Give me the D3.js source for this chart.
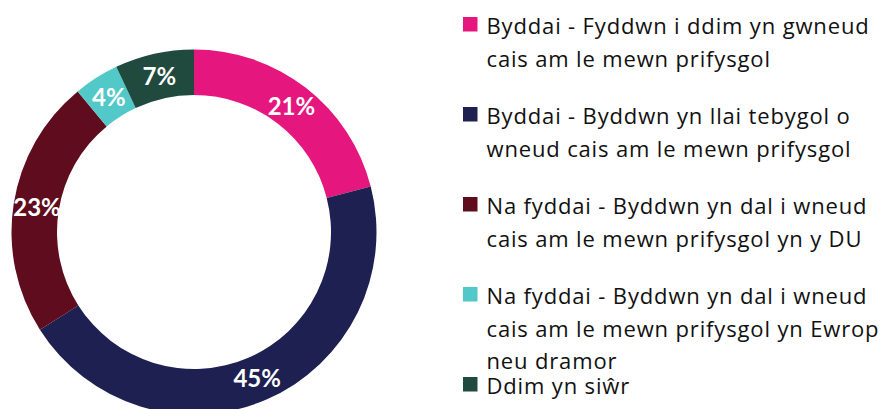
<!DOCTYPE html>
<html>
<head>
<meta charset="utf-8">
<script src="https://cdn.jsdelivr.net/npm/d3@7"></script>
<style>
  html, body { margin: 0; padding: 0; background: #fff; }
  svg { display: block; }
</style>
</head>
<body>
<svg id="chart" width="891" height="409"></svg>
<script>
// data
const categories = [
  "Byddai - Fyddwn i ddim yn gwneud|cais am le mewn prifysgol",
  "Byddai - Byddwn yn llai tebygol o|wneud cais am le mewn prifysgol",
  "Na fyddai - Byddwn yn dal i wneud|cais am le mewn prifysgol yn y DU",
  "Na fyddai - Byddwn yn dal i wneud|cais am le mewn prifysgol yn Ewrop|neu dramor",
  "Ddim yn siŵr"
];
const values = [21, 45, 23, 4, 7];
const colors = ["#E5177F", "#1D2050", "#5E0C1E", "#52C8C8", "#1F4A3D"];

const svg = d3.select("#chart");
const cx = 194, cy = 232;
const outerR = 182.5, innerR = 137;

const g = svg.append("g").attr("transform", `translate(${cx},${cy})`);

const pie = d3.pie().sort(null).value(d => d);
const arcs = pie(values);

const arc = d3.arc().innerRadius(innerR).outerRadius(outerR);
const labelArc = d3.arc().innerRadius(159).outerRadius(159);

g.selectAll("path.slice")
  .data(arcs)
  .enter().append("path")
  .attr("class", "slice")
  .attr("d", arc)
  .attr("fill", (d, i) => colors[i]);

g.selectAll("text.pct")
  .data(arcs)
  .enter().append("text")
  .attr("class", "pct")
  .attr("transform", d => `translate(${labelArc.centroid(d)})`)
  .attr("text-anchor", "middle")
  .attr("dy", "0.36em")
  .attr("fill", "#fff")
  .attr("font-family", "Lato, sans-serif")
  .attr("font-weight", "bold")
  .attr("font-size", 24)
  .text(d => d.data + "%");

// legend
const legendX = 463, firstBase = 34, itemStep = 90, lineH = 32.5;
const legend = svg.append("g");

categories.forEach((c, i) => {
  const base = firstBase + i * itemStep;
  legend.append("rect")
    .attr("x", legendX)
    .attr("y", base - 17)
    .attr("width", 14.5)
    .attr("height", 14.5)
    .attr("fill", colors[i]);

  const t = legend.append("text")
    .attr("x", legendX + 23.5)
    .attr("y", base)
    .attr("fill", "#111")
    .attr("font-family", "'Open Sans', sans-serif")
    .attr("font-size", 22)
    .attr("letter-spacing", 0.85);
  c.split("|").forEach((line, j) => {
    t.append("tspan")
      .attr("x", legendX + 23.5)
      .attr("y", base + j * lineH)
      .text(line);
  });
});
</script>
</body>
</html>
